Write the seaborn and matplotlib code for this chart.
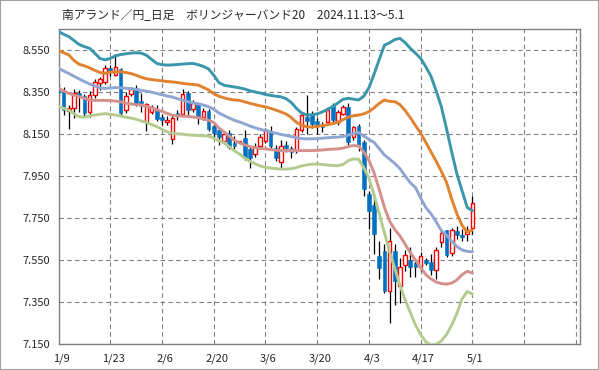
import matplotlib
matplotlib.use("Agg")
import matplotlib.pyplot as plt
import matplotlib.patches as mpatches
import matplotlib.transforms as mtransforms
import numpy as np
import pandas as pd
import seaborn as sns

sns.set_style("white")
plt.rcParams['font.family'] = ['Noto Sans CJK JP', 'DejaVu Sans']

title = "南アランド／円_日足　ボリンジャーバンド20　2024.11.13～5.1"

# 営業日ごとの日付ラベル(10営業日おき)
date_labels = ['1/9', '1/23', '2/6', '2/20', '3/6', '3/20', '4/3', '4/17', '5/1']

# ローソク足 (1/9 ～ 5/1)
opens = [8.368, 8.349, 8.259, 8.272, 8.343, 8.330, 8.254, 8.334, 8.391, 8.398,
         8.464, 8.430, 8.459, 8.263, 8.339, 8.371, 8.307, 8.207, 8.254, 8.271,
         8.230, 8.208, 8.128, 8.248, 8.243, 8.344, 8.267, 8.287, 8.230, 8.258,
         8.186, 8.167, 8.119, 8.153, 8.109, 8.111, 8.133, 8.080, 8.056, 8.095,
         8.119, 8.159, 8.085, 8.018, 8.100, 8.085, 8.068, 8.170, 8.230, 8.239,
         8.211, 8.191, 8.205, 8.287, 8.205, 8.247, 8.279, 8.136, 8.186, 8.112,
         7.863, 7.812, 7.568, 7.592, 7.404, 7.592, 7.425, 7.528, 7.548, 7.536,
         7.517, 7.548, 7.540, 7.501, 7.637, 7.691, 7.581, 7.688, 7.669, 7.675,
         7.701]
highs = [8.387, 8.372, 8.287, 8.362, 8.360, 8.340, 8.355, 8.412, 8.420, 8.480,
         8.478, 8.531, 8.462, 8.350, 8.372, 8.385, 8.345, 8.300, 8.290, 8.290,
         8.245, 8.235, 8.245, 8.265, 8.362, 8.357, 8.310, 8.300, 8.275, 8.270,
         8.200, 8.185, 8.160, 8.170, 8.140, 8.118, 8.170, 8.095, 8.105, 8.150,
         8.180, 8.190, 8.100, 8.120, 8.115, 8.095, 8.185, 8.255, 8.334, 8.260,
         8.225, 8.205, 8.275, 8.300, 8.265, 8.290, 8.300, 8.190, 8.200, 8.120,
         7.880, 7.860, 7.640, 7.625, 7.704, 7.627, 7.560, 7.600, 7.610, 7.545,
         7.590, 7.560, 7.580, 7.610, 7.690, 7.695, 7.703, 7.712, 7.700, 7.710,
         7.855]
lows = [8.330, 8.240, 8.175, 8.228, 8.255, 8.235, 8.232, 8.322, 8.360, 8.390,
        8.428, 8.425, 8.235, 8.252, 8.330, 8.285, 8.255, 8.165, 8.245, 8.210,
        8.195, 8.195, 8.103, 8.215, 8.234, 8.240, 8.255, 8.200, 8.215, 8.165,
        8.125, 8.100, 8.105, 8.080, 8.080, 8.108, 8.025, 7.990, 8.040, 8.080,
        8.105, 8.085, 8.020, 7.990, 8.065, 8.035, 8.060, 8.160, 8.150, 8.180,
        8.150, 8.160, 8.195, 8.200, 8.195, 8.240, 8.100, 8.120, 8.070, 7.855,
        7.700, 7.580, 7.460, 7.395, 7.249, 7.338, 7.345, 7.500, 7.470, 7.470,
        7.500, 7.525, 7.480, 7.460, 7.610, 7.563, 7.570, 7.650, 7.640, 7.640,
        7.672]
closes = [8.349, 8.262, 8.276, 8.343, 8.333, 8.248, 8.334, 8.397, 8.410, 8.466,
          8.445, 8.468, 8.250, 8.330, 8.362, 8.298, 8.298, 8.291, 8.277, 8.223,
          8.218, 8.218, 8.224, 8.234, 8.339, 8.263, 8.296, 8.229, 8.259, 8.176,
          8.154, 8.138, 8.148, 8.090, 8.095, 8.116, 8.037, 8.037, 8.090, 8.135,
          8.167, 8.095, 8.037, 8.095, 8.085, 8.066, 8.175, 8.239, 8.210, 8.199,
          8.191, 8.181, 8.263, 8.215, 8.254, 8.279, 8.113, 8.181, 8.095, 7.887,
          7.785, 7.673, 7.512, 7.404, 7.640, 7.448, 7.515, 7.573, 7.515, 7.515,
          7.571, 7.536, 7.501, 7.600, 7.680, 7.576, 7.691, 7.669, 7.661, 7.691,
          7.823]

# ボリンジャーバンド (+2σ, +1σ, 中心線, -1σ, -2σ)
upper2 = [8.638, 8.625, 8.614, 8.595, 8.576, 8.566, 8.558, 8.535, 8.510, 8.503,
          8.510, 8.522, 8.528, 8.532, 8.535, 8.537, 8.535, 8.525, 8.505, 8.486,
          8.480, 8.478, 8.479, 8.481, 8.483, 8.485, 8.486, 8.480, 8.472, 8.460,
          8.430, 8.395, 8.382, 8.378, 8.374, 8.370, 8.364, 8.356, 8.350, 8.345,
          8.338, 8.334, 8.330, 8.327, 8.318, 8.300, 8.272, 8.250, 8.240, 8.242,
          8.246, 8.255, 8.268, 8.280, 8.298, 8.315, 8.320, 8.316, 8.312, 8.330,
          8.370, 8.435, 8.505, 8.573, 8.584, 8.600, 8.605, 8.585, 8.558, 8.535,
          8.510, 8.470, 8.425, 8.355, 8.280, 8.175, 8.065, 7.960, 7.880, 7.800,
          7.785]
upper1 = [8.547, 8.537, 8.526, 8.500, 8.482, 8.475, 8.465, 8.453, 8.443, 8.438,
          8.444, 8.446, 8.446, 8.443, 8.438, 8.430, 8.420, 8.413, 8.409, 8.406,
          8.403, 8.400, 8.398, 8.395, 8.391, 8.388, 8.386, 8.383, 8.372, 8.360,
          8.342, 8.330, 8.322, 8.316, 8.312, 8.310, 8.303, 8.296, 8.290, 8.284,
          8.279, 8.272, 8.264, 8.255, 8.245, 8.228, 8.205, 8.192, 8.185, 8.183,
          8.186, 8.190, 8.194, 8.200, 8.206, 8.218, 8.230, 8.237, 8.240, 8.246,
          8.256, 8.275, 8.296, 8.312, 8.305, 8.304, 8.290, 8.262, 8.228, 8.190,
          8.155, 8.110, 8.065, 8.020, 7.972, 7.920, 7.840, 7.770, 7.715, 7.683,
          7.693]
middle = [8.462, 8.450, 8.438, 8.425, 8.412, 8.400, 8.388, 8.379, 8.370, 8.367,
          8.369, 8.371, 8.370, 8.368, 8.366, 8.362, 8.358, 8.354, 8.349, 8.343,
          8.337, 8.331, 8.326, 8.318, 8.311, 8.304, 8.298, 8.294, 8.288, 8.280,
          8.268, 8.250, 8.238, 8.226, 8.215, 8.207, 8.198, 8.188, 8.180, 8.172,
          8.166, 8.160, 8.154, 8.148, 8.143, 8.138, 8.132, 8.128, 8.127, 8.127,
          8.128, 8.130, 8.132, 8.134, 8.135, 8.138, 8.145, 8.152, 8.158, 8.140,
          8.125, 8.110, 8.080, 8.050, 8.030, 8.010, 7.985, 7.950, 7.918, 7.895,
          7.845, 7.800, 7.770, 7.732, 7.690, 7.668, 7.640, 7.614, 7.598, 7.591,
          7.589]
lower1 = [8.367, 8.355, 8.343, 8.335, 8.328, 8.320, 8.312, 8.310, 8.310, 8.310,
          8.309, 8.307, 8.303, 8.297, 8.293, 8.290, 8.287, 8.282, 8.275, 8.266,
          8.258, 8.248, 8.239, 8.237, 8.235, 8.234, 8.231, 8.228, 8.222, 8.215,
          8.205, 8.178, 8.160, 8.140, 8.120, 8.107, 8.098, 8.090, 8.085, 8.081,
          8.079, 8.076, 8.073, 8.071, 8.071, 8.071, 8.071, 8.071, 8.071, 8.071,
          8.072, 8.074, 8.076, 8.078, 8.079, 8.083, 8.090, 8.095, 8.093, 8.065,
          8.025, 7.965, 7.885, 7.800, 7.735, 7.695, 7.665, 7.625, 7.585, 7.550,
          7.515, 7.480, 7.460, 7.445, 7.438, 7.435, 7.440, 7.455, 7.480, 7.496,
          7.488]
lower2 = [8.282, 8.272, 8.263, 8.247, 8.232, 8.230, 8.236, 8.240, 8.244, 8.247,
          8.244, 8.240, 8.236, 8.230, 8.226, 8.220, 8.212, 8.205, 8.195, 8.185,
          8.172, 8.160, 8.153, 8.151, 8.149, 8.146, 8.144, 8.143, 8.142, 8.140,
          8.130, 8.118, 8.108, 8.090, 8.070, 8.055, 8.035, 8.020, 8.008, 7.998,
          7.991, 7.988, 7.985, 7.983, 7.983, 7.985, 7.990, 7.998, 8.003, 8.006,
          8.007, 8.005, 8.002, 8.000, 7.999, 8.005, 8.023, 8.031, 8.030, 7.990,
          7.940, 7.860, 7.770, 7.680, 7.590, 7.510, 7.430, 7.360, 7.300, 7.240,
          7.195, 7.160, 7.145, 7.148, 7.165, 7.195, 7.240, 7.295, 7.365, 7.400,
          7.388]

band_names = ['+2σ', '+1σ', '中心線', '-1σ', '-2σ']
band_colors = ['#3A97AB', '#E0822F', '#8FA6D2', '#D4908D', '#B4CB8F']

n = len(closes)
idx = np.arange(n)

fig = plt.figure(figsize=(5.99, 3.70), dpi=100)
ax = fig.add_axes([58.5 / 599, 1 - 344 / 370, (580 - 58.5) / 599, (344 - 29) / 370])

# ローソク足
o = np.array(opens)
c = np.array(closes)
up = c >= o
ax.vlines(idx, lows, highs, color='black', lw=0.9, zorder=2)
ax.bar(idx[up], (c - o)[up], bottom=o[up], width=0.7,
       color='white', edgecolor='#FF0000', lw=1.0, zorder=3)
ax.bar(idx[~up], (o - c)[~up], bottom=c[~up], width=0.7,
       color='#0070C0', edgecolor='#0070C0', lw=0.4, zorder=3)

# バンド
bands = pd.DataFrame({
    'idx': np.tile(idx, len(band_names)),
    'value': np.concatenate([upper2, upper1, middle, lower1, lower2]),
    'band': np.repeat(band_names, n),
})
sns.lineplot(data=bands, x='idx', y='value', hue='band', hue_order=band_names,
             palette=dict(zip(band_names, band_colors)), lw=2.1,
             legend=False, ax=ax, zorder=4)

ax.set_xlim(0, 100.8)
ax.set_ylim(7.15, 8.65)
ax.set_xlabel('')
ax.set_ylabel('')

ax.set_xticks(range(0, 101, 10))
ax.set_xticklabels(date_labels + ['', ''])
ax.set_yticks(np.arange(7.15, 8.56, 0.2))
ax.set_yticklabels([f"{v:.3f}" for v in np.arange(7.15, 8.56, 0.2)])
ax.tick_params(axis='y', length=4, width=0.8, color='#808080', labelsize=8, pad=2)
ax.tick_params(axis='x', length=3, width=0.8, color='#808080', labelsize=8, pad=4)
offset = mtransforms.ScaledTranslation(3 / 100, 0, fig.dpi_scale_trans)
for lbl in ax.get_xticklabels():
    lbl.set_transform(lbl.get_transform() + offset)

ax.grid(True, color='#808080', ls=(0, (4, 3)), lw=0.8)
for sp in ax.spines.values():
    sp.set_visible(True)
    sp.set_color('#808080')
    sp.set_linewidth(1.0)

fig.text(62 / 599, 1 - 15 / 370, title, fontsize=8.5, ha='left', va='center')

# 外枠
fig.patches.append(mpatches.Rectangle((0, 0), 1, 1, transform=fig.transFigure,
                                      fill=False, edgecolor='#A0A0A0', lw=1.5))

fig.savefig('out.png', dpi=100)
